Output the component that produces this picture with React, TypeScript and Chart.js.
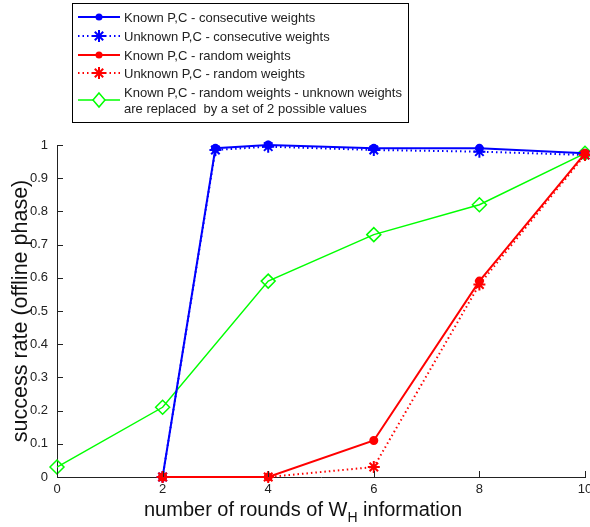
import React, { useEffect, useRef } from "react";
import { Chart, registerables } from "chart.js";

Chart.register(...registerables);

const xConsecutive = [2, 3, 4, 6, 8, 10];
const knownConsecutive = [0, 0.99, 1.0, 0.99, 0.99, 0.975];
const unknownConsecutive = [0, 0.985, 0.995, 0.985, 0.98, 0.97];

const xRandom = [2, 4, 6, 8, 10];
const knownRandom = [0, 0, 0.11, 0.59, 0.975];
const unknownRandom = [0, 0, 0.03, 0.58, 0.97];

const xReplaced = [0, 2, 4, 6, 8, 10];
const replacedValues = [0.03, 0.21, 0.59, 0.73, 0.82, 0.975];

const xTicks = [0, 2, 4, 6, 8, 10];
const yTicks = [0, 0.1, 0.2, 0.3, 0.4, 0.5, 0.6, 0.7, 0.8, 0.9, 1];

const legendLabels = [
  ["Known P,C - consecutive weights"],
  ["Unknown P,C - consecutive weights"],
  ["Known P,C - random weights"],
  ["Unknown P,C - random weights"],
  ["Known P,C - random weights - unknown weights", "are replaced  by a set of 2 possible values"],
];

const FONT = "'Liberation Sans', Arial, sans-serif";
const BLUE = "#0000ff";
const RED = "#ff0000";
const GREEN = "#00ff00";

const toXY = (xs: number[], ys: number[]) => xs.map((x, i) => ({ x, y: ys[i] }));

const decorPlugin = {
  id: "decor",
  afterDraw(chart: any) {
    const ctx = chart.ctx as CanvasRenderingContext2D;
    const xs = chart.scales.x;
    const ys = chart.scales.y;
    const area = chart.chartArea;
    ctx.save();
    // inward ticks
    ctx.strokeStyle = "#222";
    ctx.lineWidth = 1;
    ctx.beginPath();
    xTicks.forEach((t) => {
      const px = Math.round(xs.getPixelForValue(t)) + 0.5;
      ctx.moveTo(px, area.bottom);
      ctx.lineTo(px, area.bottom - 6);
    });
    yTicks.forEach((t) => {
      const py = Math.round(ys.getPixelForValue(t)) + 0.5;
      ctx.moveTo(area.left, py);
      ctx.lineTo(area.left + 6, py);
    });
    ctx.stroke();

    // x axis title with subscript
    ctx.fillStyle = "#111";
    ctx.textBaseline = "alphabetic";
    const big = `20px ${FONT}`;
    const small = `14px ${FONT}`;
    const p1 = "number of rounds of W";
    const p2 = "H";
    const p3 = " information";
    ctx.font = big;
    const w1 = ctx.measureText(p1).width;
    const w3 = ctx.measureText(p3).width;
    ctx.font = small;
    const w2 = ctx.measureText(p2).width;
    const total = w1 + w2 + w3;
    let sx = 303 - total / 2;
    const by = 516;
    ctx.font = big;
    ctx.textAlign = "left";
    ctx.fillText(p1, sx, by);
    sx += w1;
    ctx.font = small;
    ctx.fillText(p2, sx, by + 6);
    sx += w2;
    ctx.font = big;
    ctx.fillText(p3, sx, by);

    // y axis title
    ctx.save();
    ctx.translate(27, 311);
    ctx.rotate(-Math.PI / 2);
    ctx.textAlign = "center";
    ctx.font = `21.5px ${FONT}`;
    ctx.fillText("success rate (offline phase)", 0, 0);
    ctx.restore();

    // legend
    const bx = 72.5, byy = 3.5, bw = 336, bh = 119;
    ctx.fillStyle = "#fff";
    ctx.fillRect(bx, byy, bw, bh);
    ctx.strokeStyle = "#000";
    ctx.lineWidth = 1;
    ctx.strokeRect(bx, byy, bw, bh);
    const rows = [17, 36, 55, 73, 100];
    const styles = [
      { color: BLUE, dash: [], marker: "dot" },
      { color: BLUE, dash: [1.5, 3], marker: "star" },
      { color: RED, dash: [], marker: "dot" },
      { color: RED, dash: [1.5, 3], marker: "star" },
      { color: GREEN, dash: [], marker: "diamond" },
    ];
    styles.forEach((s, i) => {
      const y = rows[i];
      ctx.save();
      ctx.strokeStyle = s.color;
      ctx.lineWidth = s.marker === "diamond" ? 1.5 : 2;
      ctx.setLineDash(s.dash);
      ctx.beginPath();
      ctx.moveTo(78, y);
      ctx.lineTo(120, y);
      ctx.stroke();
      ctx.setLineDash([]);
      const cx = 99;
      if (s.marker === "dot") {
        ctx.fillStyle = s.color;
        ctx.beginPath();
        ctx.arc(cx, y, 3.5, 0, Math.PI * 2);
        ctx.fill();
      } else if (s.marker === "star") {
        ctx.lineWidth = 2;
        const r = 6;
        ctx.beginPath();
        ctx.moveTo(cx - r, y);
        ctx.lineTo(cx + r, y);
        ctx.moveTo(cx, y - r);
        ctx.lineTo(cx, y + r);
        const d = r * 0.7;
        ctx.moveTo(cx - d, y - d);
        ctx.lineTo(cx + d, y + d);
        ctx.moveTo(cx - d, y + d);
        ctx.lineTo(cx + d, y - d);
        ctx.stroke();
      } else {
        ctx.fillStyle = "#fff";
        ctx.beginPath();
        ctx.moveTo(cx, y - 7);
        ctx.lineTo(cx + 6, y);
        ctx.lineTo(cx, y + 7);
        ctx.lineTo(cx - 6, y);
        ctx.closePath();
        ctx.fill();
        ctx.stroke();
      }
      ctx.restore();
      ctx.fillStyle = "#222";
      ctx.font = `13px ${FONT}`;
      ctx.textAlign = "left";
      ctx.textBaseline = "middle";
      const lines = legendLabels[i];
      if (lines.length === 1) {
        ctx.fillText(lines[0], 124, y + 1);
      } else {
        ctx.fillText(lines[0], 124, 93);
        ctx.fillText(lines[1], 124, 109);
      }
    });
    ctx.restore();
  },
};

export default function App() {
  const ref = useRef<HTMLCanvasElement | null>(null);
  useEffect(() => {
    document.body.style.margin = "0";
    const canvas = ref.current;
    if (!canvas) return;
    const chart = new Chart(canvas, {
      type: "line",
      data: {
        datasets: [
          {
            label: "Known P,C - random weights - unknown weights are replaced by a set of 2 possible values",
            data: toXY(xReplaced, replacedValues),
            borderColor: GREEN,
            backgroundColor: "rgba(0,0,0,0)",
            borderWidth: 1.5,
            pointStyle: "rectRot",
            pointRadius: 7,
            pointBorderWidth: 1.5,
            pointBorderColor: GREEN,
            pointBackgroundColor: "rgba(0,0,0,0)",
            order: 5,
          },
          {
            label: "Known P,C - consecutive weights",
            data: toXY(xConsecutive, knownConsecutive),
            borderColor: BLUE,
            backgroundColor: BLUE,
            borderWidth: 2,
            pointStyle: "circle",
            pointRadius: 3.5,
            pointBackgroundColor: BLUE,
            pointBorderColor: BLUE,
            order: 4,
          },
          {
            label: "Unknown P,C - consecutive weights",
            data: toXY(xConsecutive, unknownConsecutive),
            borderColor: BLUE,
            backgroundColor: BLUE,
            borderWidth: 2,
            borderDash: [1.5, 3],
            pointStyle: "star",
            pointRadius: 6,
            pointBorderWidth: 2,
            pointBorderColor: BLUE,
            order: 3,
          },
          {
            label: "Known P,C - random weights",
            data: toXY(xRandom, knownRandom),
            borderColor: RED,
            backgroundColor: RED,
            borderWidth: 2,
            pointStyle: "circle",
            pointRadius: 3.5,
            pointBackgroundColor: RED,
            pointBorderColor: RED,
            order: 2,
          },
          {
            label: "Unknown P,C - random weights",
            data: toXY(xRandom, unknownRandom),
            borderColor: RED,
            backgroundColor: RED,
            borderWidth: 2,
            borderDash: [1.5, 3],
            pointStyle: "star",
            pointRadius: 6,
            pointBorderWidth: 2,
            pointBorderColor: RED,
            order: 1,
          },
        ],
      },
      options: {
        responsive: false,
        animation: false,
        clip: false as any,
        layout: { autoPadding: false, padding: { top: 145, right: 5, left: 0, bottom: 0 } },
        plugins: { legend: { display: false }, tooltip: { enabled: false } },
        elements: { line: { tension: 0 } },
        scales: {
          x: {
            type: "linear",
            min: 0,
            max: 10,
            afterBuildTicks: (s: any) => {
              s.ticks = xTicks.map((v) => ({ value: v }));
            },
            afterFit: (s: any) => {
              s.height = 50;
              s.paddingRight = 0;
              s.paddingLeft = 0;
            },
            grid: { display: false, drawTicks: false },
            border: { display: true, color: "#222", width: 1 },
            ticks: {
              padding: 5,
              color: "#222",
              font: { family: FONT, size: 13 },
              maxRotation: 0,
              callback: (v: any) => String(v),
            },
          },
          y: {
            type: "linear",
            min: 0,
            max: 1,
            afterBuildTicks: (s: any) => {
              s.ticks = yTicks.map((v) => ({ value: v }));
            },
            afterFit: (s: any) => {
              s.width = 57;
              s.paddingTop = 0;
              s.paddingBottom = 0;
            },
            grid: { display: false, drawTicks: false },
            border: { display: true, color: "#222", width: 1 },
            ticks: {
              padding: 9,
              color: "#222",
              font: { family: FONT, size: 13 },
              callback: (v: any) => String(Math.round(Number(v) * 10) / 10),
            },
          },
        },
      },
      plugins: [decorPlugin],
    });
    return () => chart.destroy();
  }, []);
  return <canvas ref={ref} width={590} height={527} style={{ display: "block" }} />;
}
